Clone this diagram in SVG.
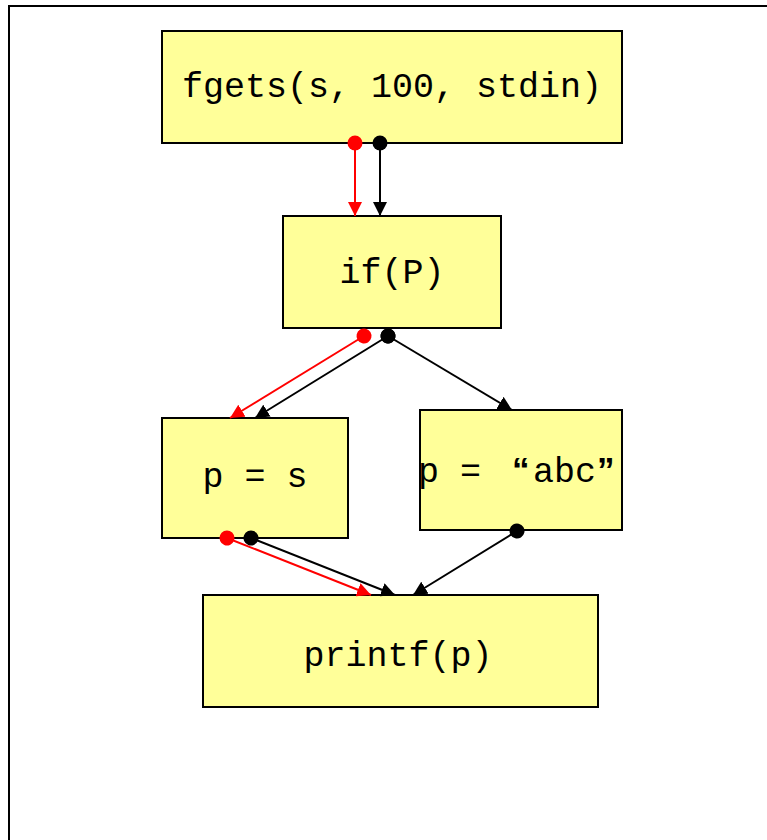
<svg xmlns="http://www.w3.org/2000/svg" width="767" height="840" viewBox="0 0 767 840">
  <style>
    .box { fill: #FFFF99; stroke: #000; stroke-width: 2; }
    .lbl { font-family: "Liberation Mono", "Courier New", monospace; font-size: 35px; fill: #000; }
    .q { font-family: "Liberation Sans", Arial, sans-serif; font-weight: bold; }
    .blk { stroke: #000; stroke-width: 2; fill: none; marker-start: url(#dotB); marker-end: url(#arrB); }
    .red { stroke: #FF0000; stroke-width: 2; fill: none; marker-start: url(#dotR); marker-end: url(#arrR); }
  </style>
  <defs>
    <marker id="arrB" markerUnits="userSpaceOnUse" markerWidth="14" markerHeight="14" refX="14" refY="7" orient="auto">
      <path d="M0,0 L14,7 L0,14 Z" fill="#000"/>
    </marker>
    <marker id="arrR" markerUnits="userSpaceOnUse" markerWidth="14" markerHeight="14" refX="14" refY="7" orient="auto">
      <path d="M0,0 L14,7 L0,14 Z" fill="#FF0000"/>
    </marker>
    <marker id="dotB" markerUnits="userSpaceOnUse" markerWidth="16" markerHeight="16" refX="8" refY="8" orient="auto">
      <circle cx="8" cy="8" r="7.5" fill="#000"/>
    </marker>
    <marker id="dotR" markerUnits="userSpaceOnUse" markerWidth="16" markerHeight="16" refX="8" refY="8" orient="auto">
      <circle cx="8" cy="8" r="7.5" fill="#FF0000"/>
    </marker>
  </defs>

  <rect width="767" height="840" fill="#fff"/>
  <!-- outer frame -->
  <path d="M9,840 V6 H767" fill="none" stroke="#000" stroke-width="2"/>

  <g id="fgets">
    <rect class="box" x="162" y="31" width="460" height="112"/>
    <text class="lbl" x="392" y="97" text-anchor="middle">fgets(s, 100, stdin)</text>
  </g>

  <g id="ifP">
    <rect class="box" x="283" y="216" width="218" height="112"/>
    <text class="lbl" x="392" y="283" text-anchor="middle">if(P)</text>
  </g>

  <g id="pIsS">
    <rect class="box" x="162" y="418" width="186" height="120"/>
    <text class="lbl" x="255" y="487" text-anchor="middle">p = s</text>
  </g>

  <g id="pIsAbc">
    <rect class="box" x="420" y="410" width="202" height="120"/>
    <text class="lbl" y="482"><tspan x="418">p = </tspan><tspan class="q" x="512">“</tspan><tspan x="533">abc</tspan><tspan class="q" x="597">”</tspan></text>
  </g>

  <g id="printf">
    <rect class="box" x="203" y="595" width="395" height="112"/>
    <text class="lbl" x="398" y="666" text-anchor="middle">printf(p)</text>
  </g>

  <g id="connectors">
    <line class="red" x1="355" y1="143" x2="355" y2="216"/>
    <line class="blk" x1="380" y1="143" x2="380" y2="216"/>
    <line class="red" x1="364" y1="336" x2="230" y2="418"/>
    <line class="blk" x1="388" y1="336" x2="255" y2="418"/>
    <line class="blk" x1="388" y1="336" x2="512" y2="410"/>
    <line class="red" x1="227" y1="538" x2="371" y2="595"/>
    <line class="blk" x1="251" y1="538" x2="395" y2="595"/>
    <line class="blk" x1="517" y1="531" x2="413" y2="595"/>
  </g>
</svg>
